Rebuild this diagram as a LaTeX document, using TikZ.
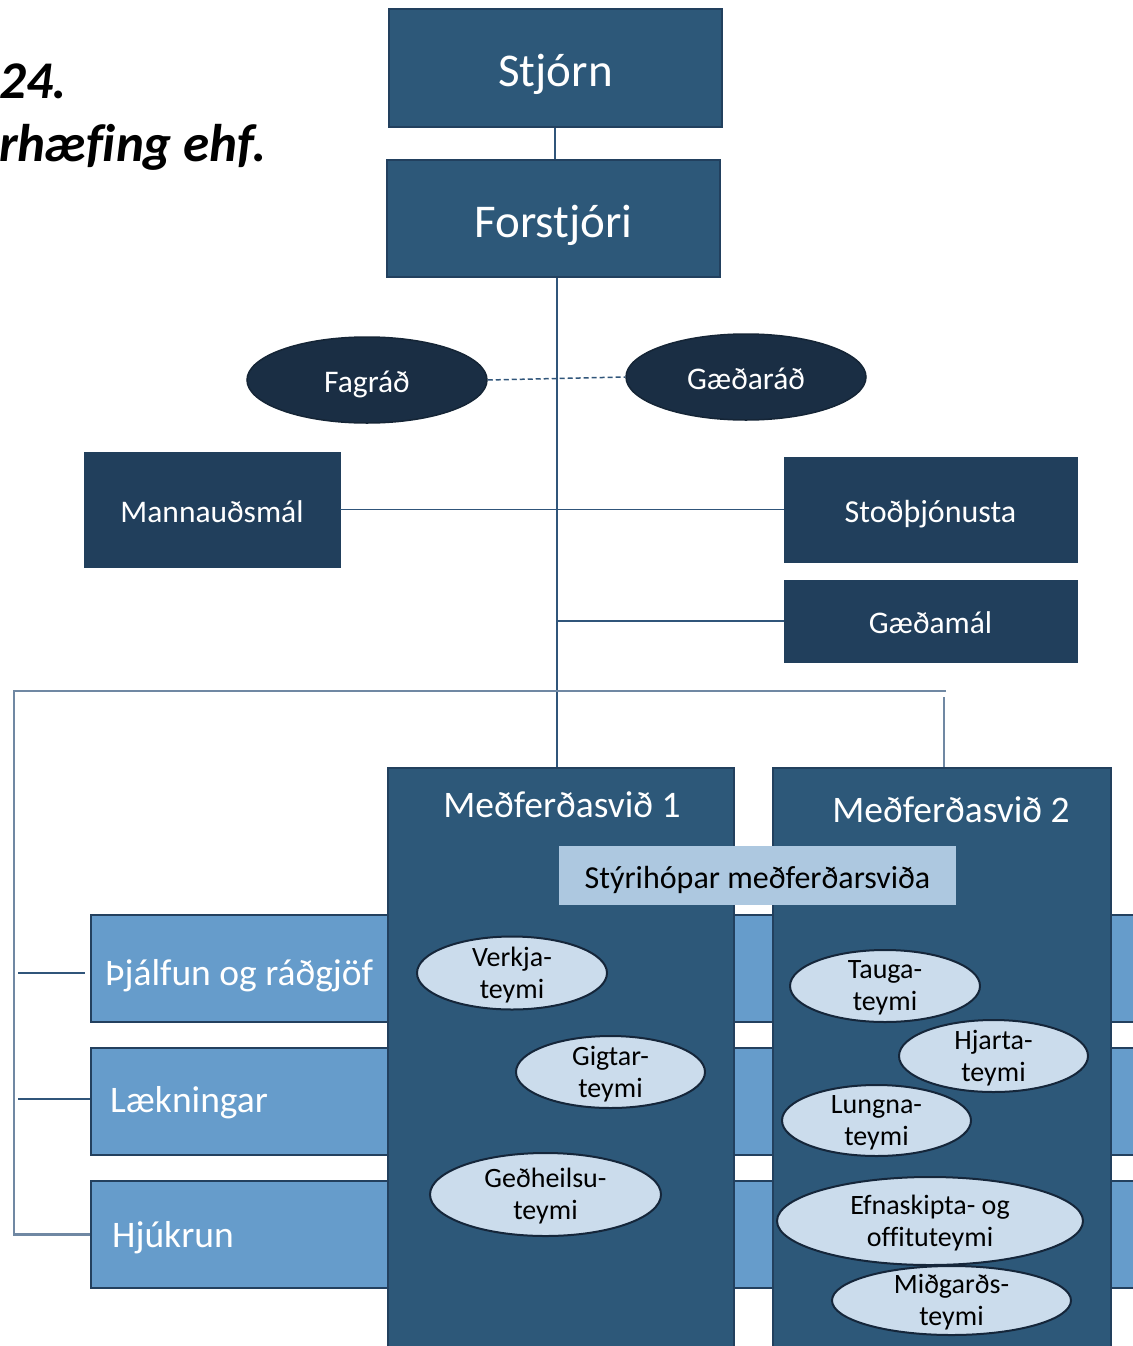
\documentclass[tikz,border=0pt]{standalone}
\usepackage{fontspec}
\setmainfont{Carlito}[Ligatures=NoCommon]
\usetikzlibrary{shapes.geometric}
\definecolor{topblue}{HTML}{2D5879}
\definecolor{topborder}{HTML}{22405E}
\definecolor{staffblue}{HTML}{213F5C}
\definecolor{council}{HTML}{1A2E44}
\definecolor{bandblue}{HTML}{669CCB}
\definecolor{bandborder}{HTML}{23405E}
\definecolor{steerblue}{HTML}{ADC8E0}
\definecolor{teamfill}{HTML}{CBDCEC}
\definecolor{teamborder}{HTML}{15263A}
\definecolor{busline}{HTML}{7088A3}
\definecolor{spineline}{HTML}{30557A}
\newcommand{\fsz}[1]{\fontsize{#1}{#1}\selectfont}
\tikzset{
  x=1pt, y=-1pt,
  boxtext/.style={text height=#1, text depth=0pt},
  topbox/.style={rectangle, fill=topblue, draw=topborder, line width=2pt, text=white, inner sep=0pt, font=\fsz{47}, boxtext=37pt},
  staffbox/.style={rectangle, fill=staffblue, draw=staffblue, text=white, inner sep=0pt, font=\fsz{31.5}, boxtext=25pt},
  councilell/.style={ellipse, fill=council, draw=council!80!black, line width=1.5pt, text=white, inner sep=0pt, font=\fsz{31.5}, boxtext=25pt},
  bandbox/.style={rectangle, fill=bandblue, draw=bandborder, line width=2.5pt, inner sep=0pt},
  bandtext/.style={anchor=base west, text=white, inner sep=0pt, font=\fsz{37.5}},
  divbox/.style={rectangle, fill=topblue, draw=topborder, line width=2.5pt, inner sep=0pt},
  divtext/.style={text=white, inner sep=0pt, font=\fsz{37.5}},
  steerbox/.style={rectangle, fill=steerblue, draw=none, inner sep=0pt, font=\fsz{32}, boxtext=25.5pt},
  teamell/.style={ellipse, fill=teamfill, draw=teamborder, line width=2pt, inner sep=0pt},
  teamtxt/.style={align=center, inner sep=0pt, yshift=-2pt, font=\fontsize{28}{32}\selectfont},
  busln/.style={draw=busline, line width=2.5pt},
  spineln/.style={draw=spineline, line width=1.5pt},
  titletxt/.style={anchor=base west, inner sep=0pt, font=\bfseries\itshape\fsz{53}}
}
\begin{document}
\begin{tikzpicture}
\useasboundingbox (0,0) rectangle (1132,1346);
% title fragments
\node[titletxt] (t1) at (-1,99) {24.};
\node[titletxt] (t2) at (-1,161) {rhæfing ehf.};
% top boxes
\node[topbox, minimum width=333, minimum height=118] (stjorn) at (555.5,68) {Stjórn};
\node[topbox, minimum width=333, minimum height=117] (forstjori) at (553.5,218.5) {Forstjóri};
\coordinate (spine) at (557,300);
\draw[spineln] (stjorn.south -| 555,0) -- (forstjori.north -| 555,0);
% councils
\node[councilell, minimum width=240, minimum height=86] (fagrad) at (367,380) {Fagráð};
\node[councilell, minimum width=240, minimum height=86] (gaedarad) at (746,377) {Gæðaráð};
% staff boxes
\node[staffbox, minimum width=256, minimum height=115] (mannaud) at (212,509.5) {Mannauðsmál};
\node[staffbox, minimum width=293, minimum height=105, font=\fsz{32}] (stod) at (930.5,509.5) {Stoðþjónusta};
\node[staffbox, minimum width=293, minimum height=82] (gaedamal) at (930.5,621) {Gæðamál};
% bands
\node[bandbox, minimum width=1060, minimum height=107] (thjalfun) at (621,968.5) {};
\node[bandbox, minimum width=1060, minimum height=107] (laekn) at (621,1101.5) {};
\node[bandbox, minimum width=1060, minimum height=107] (hjukrun) at (621,1234.5) {};
\node[bandtext] (thjalfunt) at (105,985) {Þjálfun og ráðgjöf};
\node[bandtext] (laeknt) at (110,1112) {Lækningar};
\node[bandtext] (hjukrunt) at (112,1247) {Hjúkrun};
% divisions
\node[divbox, minimum width=346, minimum height=600] (m1) at (561,1068) {};
\node[divbox, minimum width=338, minimum height=600] (m2) at (942,1068) {};
\node[divtext] (m1t) at (562,805) {Meðferðasvið 1};
\node[divtext] (m2t) at (951,810) {Meðferðasvið 2};
\node[steerbox, minimum width=397, minimum height=59] (steer) at (757.5,875.5) {Stýrihópar meðferðarsviða};
% connectors
\draw[spineln] (forstjori.south -| spine) -- (m1.north -| spine);
\draw[spineln, dashed, dash pattern=on 5pt off 3pt] (fagrad.east) -- (gaedarad.west);
\draw[spineln] (mannaud.east) -- (stod.west);
\draw[spineln] (gaedamal.west) -- (gaedamal.west -| spine);
\coordinate (busL) at (14,691);
\coordinate (busR) at (946,691);
\draw[busln] (busR) -- (busL) -- (busL |- hjukrun.west) -- (hjukrun.west);
\draw[busln] (944,697) -- (m2.north -| 944,0);
\draw[spineln] (18,973) -- (85,973);
\draw[spineln] (18,1099) -- (laekn.west |- 0,1099);
% teams
\node[teamell, minimum width=190, minimum height=73, label={[teamtxt]center:Verkja-\\teymi}] (verkja) at (512,973) {};
\node[teamell, minimum width=189, minimum height=72, label={[teamtxt]center:Gigtar-\\teymi}] (gigtar) at (610.5,1072) {};
\node[teamell, minimum width=231, minimum height=83, label={[teamtxt]center:Geðheilsu-\\teymi}] (gedheilsu) at (545.5,1194.5) {};
\node[teamell, minimum width=190, minimum height=72, label={[teamtxt]center:Tauga-\\teymi}] (tauga) at (885,986) {};
\node[teamell, minimum width=189, minimum height=72, label={[teamtxt]center:Hjarta-\\teymi}] (hjarta) at (993.5,1056) {};
\node[teamell, minimum width=189, minimum height=71, label={[teamtxt]center:Lungna-\\teymi}] (lungna) at (876.5,1120.5) {};
\node[teamell, minimum width=306, minimum height=88, label={[teamtxt]center:Efnaskipta- og\\offituteymi}] (efna) at (930,1221) {};
\node[teamell, minimum width=239, minimum height=69, label={[teamtxt]center:Miðgarðs-\\teymi}] (midgards) at (951.5,1300.5) {};
\end{tikzpicture}
\end{document}
